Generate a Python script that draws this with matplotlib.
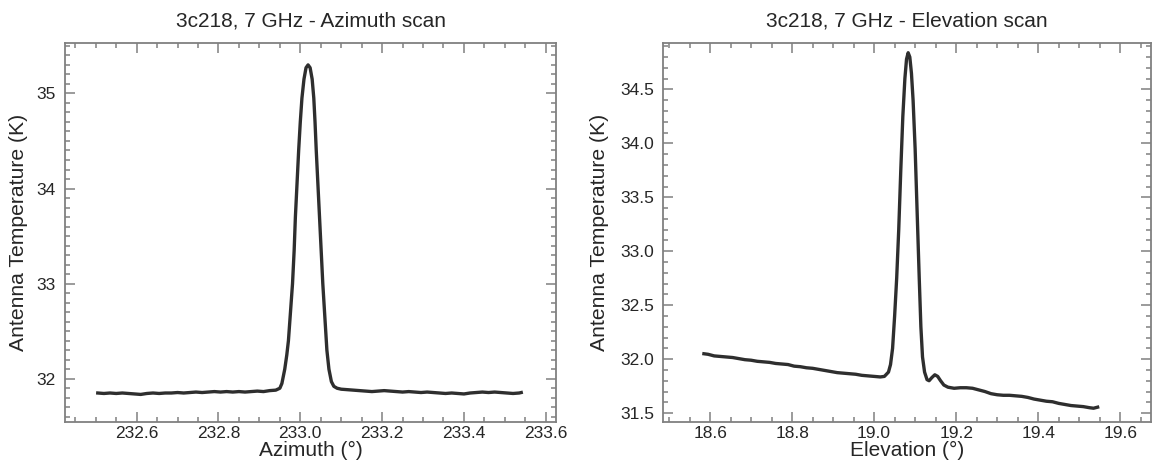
import matplotlib
matplotlib.use("Agg")
import matplotlib.pyplot as plt
from matplotlib.ticker import MultipleLocator, FormatStrFormatter

# ---------------- data ----------------
az_title = "3c218, 7 GHz - Azimuth scan"
el_title = "3c218, 7 GHz - Elevation scan"
az_xlabel = "Azimuth (°)"
el_xlabel = "Elevation (°)"
ylabel = "Antenna Temperature (K)"

az_x = [232.505, 232.52, 232.535, 232.55, 232.565, 232.58, 232.595, 232.61, 232.625, 232.64,
        232.655, 232.67, 232.685, 232.70, 232.715, 232.73, 232.745, 232.76, 232.775, 232.79,
        232.805, 232.82, 232.835, 232.85, 232.865, 232.88, 232.895, 232.91, 232.925, 232.94,
        232.95, 232.955, 232.962, 232.967, 232.971, 232.976, 232.981, 232.985, 232.988, 232.992,
        232.996, 233.000, 233.004, 233.009, 233.014, 233.019, 233.024, 233.029, 233.033, 233.036,
        233.039, 233.043, 233.047, 233.051, 233.055, 233.060, 233.065, 233.070, 233.076, 233.082,
        233.09, 233.10, 233.115, 233.13, 233.145, 233.16, 233.175, 233.19, 233.205, 233.22,
        233.235, 233.25, 233.265, 233.28, 233.295, 233.31, 233.325, 233.34, 233.355, 233.37,
        233.385, 233.40, 233.415, 233.43, 233.445, 233.46, 233.475, 233.49, 233.505, 233.52,
        233.535, 233.54]
az_t = [31.85, 31.845, 31.85, 31.845, 31.85, 31.845, 31.84, 31.835, 31.845, 31.85,
        31.845, 31.85, 31.85, 31.855, 31.85, 31.855, 31.86, 31.855, 31.86, 31.865,
        31.86, 31.865, 31.86, 31.865, 31.86, 31.865, 31.87, 31.865, 31.875, 31.88,
        31.90, 31.95, 32.1, 32.25, 32.4, 32.7, 33.0, 33.35, 33.7, 34.05,
        34.4, 34.7, 34.95, 35.15, 35.27, 35.30, 35.27, 35.15, 34.95, 34.7,
        34.4, 34.05, 33.7, 33.35, 33.0, 32.65, 32.3, 32.1, 31.97, 31.92,
        31.90, 31.89, 31.885, 31.88, 31.875, 31.87, 31.865, 31.87, 31.875, 31.87,
        31.865, 31.86, 31.865, 31.86, 31.855, 31.86, 31.855, 31.85, 31.845, 31.85,
        31.845, 31.84, 31.85, 31.855, 31.86, 31.855, 31.86, 31.855, 31.85, 31.845,
        31.85, 31.855]

el_x = [18.585, 18.595, 18.61, 18.625, 18.64, 18.655, 18.67, 18.685, 18.70, 18.715,
        18.73, 18.745, 18.76, 18.775, 18.79, 18.805, 18.82, 18.835, 18.85, 18.865,
        18.88, 18.895, 18.91, 18.925, 18.94, 18.955, 18.97, 18.985, 19.0, 19.015,
        19.025, 19.035, 19.040, 19.045, 19.050, 19.055, 19.060, 19.065, 19.070, 19.075,
        19.079, 19.083, 19.087, 19.091, 19.095, 19.100, 19.105, 19.110, 19.114, 19.118,
        19.123, 19.129, 19.134, 19.141, 19.148, 19.155, 19.162, 19.17, 19.18, 19.195,
        19.21, 19.225, 19.24, 19.255, 19.27, 19.285, 19.30, 19.315, 19.33, 19.345,
        19.36, 19.375, 19.39, 19.405, 19.42, 19.435, 19.45, 19.465, 19.48, 19.495,
        19.51, 19.525, 19.535, 19.545]
el_t = [32.05, 32.045, 32.03, 32.025, 32.02, 32.015, 32.005, 31.995, 31.99, 31.98,
        31.975, 31.97, 31.96, 31.955, 31.95, 31.935, 31.93, 31.92, 31.915, 31.905,
        31.895, 31.885, 31.875, 31.87, 31.865, 31.86, 31.85, 31.845, 31.84, 31.835,
        31.84, 31.88, 31.95, 32.1, 32.4, 32.75, 33.2, 33.75, 34.25, 34.6,
        34.78, 34.84, 34.8, 34.65, 34.4, 33.95, 33.35, 32.75, 32.3, 32.02,
        31.88, 31.81, 31.80, 31.83, 31.855, 31.84, 31.80, 31.76, 31.74, 31.73,
        31.735, 31.735, 31.73, 31.715, 31.70, 31.68, 31.67, 31.665, 31.665, 31.66,
        31.655, 31.645, 31.63, 31.62, 31.61, 31.605, 31.59, 31.58, 31.57, 31.565,
        31.56, 31.55, 31.545, 31.555]

# ---------------- styling ----------------
plt.rcParams['font.family'] = ['Liberation Sans', 'DejaVu Sans']
TEXT = '#262626'
AXC = '#808080'
LINE = '#2e2e2e'

fig = plt.figure(figsize=(11.55, 4.61), dpi=100)
ax1 = fig.add_axes([0.0563, 0.0852, 0.4251, 0.8215])
ax2 = fig.add_axes([0.5743, 0.0852, 0.4222, 0.8215])


def style(ax, xmaj, xmin, ymaj, ymin, yfmt):
    for s in ax.spines.values():
        s.set_color(AXC)
        s.set_linewidth(1.3)
    ax.xaxis.set_major_locator(MultipleLocator(xmaj))
    ax.xaxis.set_minor_locator(MultipleLocator(xmin))
    ax.yaxis.set_major_locator(MultipleLocator(ymaj))
    ax.yaxis.set_minor_locator(MultipleLocator(ymin))
    ax.xaxis.set_major_formatter(FormatStrFormatter('%.1f'))
    ax.yaxis.set_major_formatter(FormatStrFormatter(yfmt))
    ax.tick_params(which='both', direction='in', top=True, right=True,
                   color=AXC, width=1.1, labelcolor=TEXT, labelsize=12.5)
    ax.tick_params(which='major', length=7.5)
    ax.tick_params(which='minor', length=3.8)
    ax.tick_params(axis='x', pad=3)
    ax.tick_params(axis='y', pad=6.5)


ax1.plot(az_x, az_t, color=LINE, lw=2.4, solid_joinstyle='round')
ax1.set_xlim(232.425, 233.625)
ax1.set_ylim(31.548, 35.53)
style(ax1, 0.2, 0.05, 1.0, 0.1, '%d')
ax1.set_title(az_title, fontsize=15, color=TEXT, pad=12)
ax1.set_xlabel(az_xlabel, fontsize=15, color=TEXT, labelpad=0)
ax1.set_ylabel(ylabel, fontsize=15.2, color=TEXT, labelpad=6.5)

ax2.plot(el_x, el_t, color=LINE, lw=2.4, solid_joinstyle='round')
ax2.set_xlim(18.486, 19.675)
ax2.set_ylim(31.42, 34.93)
style(ax2, 0.2, 0.05, 0.5, 0.1, '%.1f')
ax2.set_title(el_title, fontsize=15, color=TEXT, pad=12)
ax2.set_xlabel(el_xlabel, fontsize=15, color=TEXT, labelpad=0)
ax2.set_ylabel(ylabel, fontsize=15.2, color=TEXT, labelpad=8)

fig.savefig('out.png', dpi=100, facecolor='white')
